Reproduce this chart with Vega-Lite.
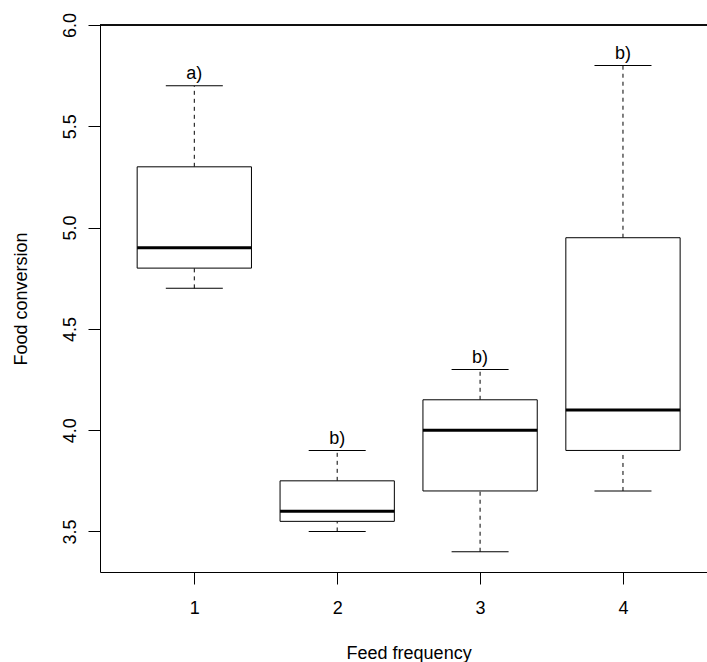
{
  "$schema": "https://vega.github.io/schema/vega-lite/v6.json",
  "width": 607,
  "height": 547,
  "autosize": "none",
  "padding": {"left": 100, "top": 25, "right": 0, "bottom": 90},
  "background": "white",
  "config": {
    "font": "Liberation Sans",
    "view": {"stroke": null},
    "axis": {"grid": false, "domainColor": "black", "tickColor": "black", "domainWidth": 1, "tickWidth": 1, "labelColor": "black", "titleColor": "black", "titleFontWeight": "normal", "labelFont": "Liberation Sans", "titleFont": "Liberation Sans"}
  },
  "data": {
    "values": [
      {"group": 1, "lower": 4.7, "q1": 4.8, "median": 4.9, "q3": 5.3, "upper": 5.7, "letter": "a)"},
      {"group": 2, "lower": 3.5, "q1": 3.55, "median": 3.6, "q3": 3.75, "upper": 3.9, "letter": "b)"},
      {"group": 3, "lower": 3.4, "q1": 3.7, "median": 4.0, "q3": 4.15, "upper": 4.3, "letter": "b)"},
      {"group": 4, "lower": 3.7, "q1": 3.9, "median": 4.1, "q3": 4.95, "upper": 5.8, "letter": "b)"}
    ]
  },
  "encoding": {
    "x": {
      "field": "group", "type": "quantitative",
      "scale": {"domain": [0.34, 4.588], "nice": false, "zero": false, "padding": 0},
      "axis": {
        "values": [1, 2, 3, 4], "format": "d", "tickSize": 12,
        "labelFontSize": 18, "labelBaseline": "alphabetic", "labelPadding": 29, "labelAlign": "center",
        "title": "Feed frequency", "titleFontSize": 18, "titleX": 308.6, "titleY": 86.5,
        "titleBaseline": "alphabetic", "titleAlign": "center", "titleAngle": 0
      }
    }
  },
  "layer": [
    {
      "mark": {"type": "rule", "color": "black", "strokeWidth": 1},
      "encoding": {"x": null, "y": {"datum": 6.0, "type": "quantitative", "scale": {"domain": [3.3, 6.0], "nice": false, "zero": false, "padding": 0}}}
    },
    {
      "mark": {"type": "rule", "color": "black", "strokeWidth": 1, "strokeDash": [4, 4]},
      "encoding": {
        "y": {"field": "q3", "type": "quantitative",
          "scale": {"domain": [3.3, 6.0], "nice": false, "zero": false, "padding": 0},
          "axis": {
            "values": [3.5, 4.0, 4.5, 5.0, 5.5, 6.0], "format": ".1f", "tickSize": 12,
            "labelFontSize": 18, "labelAngle": 270, "labelAlign": "center", "labelBaseline": "alphabetic", "labelPadding": 13,
            "title": "Food conversion", "titleFontSize": 18, "titleAngle": 270, "titleX": -73.5, "titleY": 273.5,
            "titleAlign": "center", "titleBaseline": "alphabetic"
          }
        },
        "y2": {"field": "upper"}
      }
    },
    {
      "mark": {"type": "rule", "color": "black", "strokeWidth": 1, "strokeDash": [4, 4]},
      "encoding": {"y": {"field": "lower", "type": "quantitative"}, "y2": {"field": "q1"}}
    },
    {
      "mark": {"type": "tick", "orient": "horizontal", "size": 57, "thickness": 1, "color": "black", "opacity": 1},
      "encoding": {"y": {"field": "upper", "type": "quantitative"}}
    },
    {
      "mark": {"type": "tick", "orient": "horizontal", "size": 57, "thickness": 1, "color": "black", "opacity": 1},
      "encoding": {"y": {"field": "lower", "type": "quantitative"}}
    },
    {
      "mark": {"type": "bar", "size": 114.3, "fill": "white", "stroke": "black", "strokeWidth": 1, "opacity": 1},
      "encoding": {"y": {"field": "q1", "type": "quantitative"}, "y2": {"field": "q3"}}
    },
    {
      "mark": {"type": "tick", "orient": "horizontal", "size": 114.3, "thickness": 3, "color": "black", "opacity": 1},
      "encoding": {"y": {"field": "median", "type": "quantitative"}}
    },
    {
      "mark": {"type": "text", "fontSize": 18, "baseline": "alphabetic", "align": "center", "dy": -6.5, "color": "black"},
      "encoding": {"y": {"field": "upper", "type": "quantitative"}, "text": {"field": "letter"}}
    }
  ]
}
